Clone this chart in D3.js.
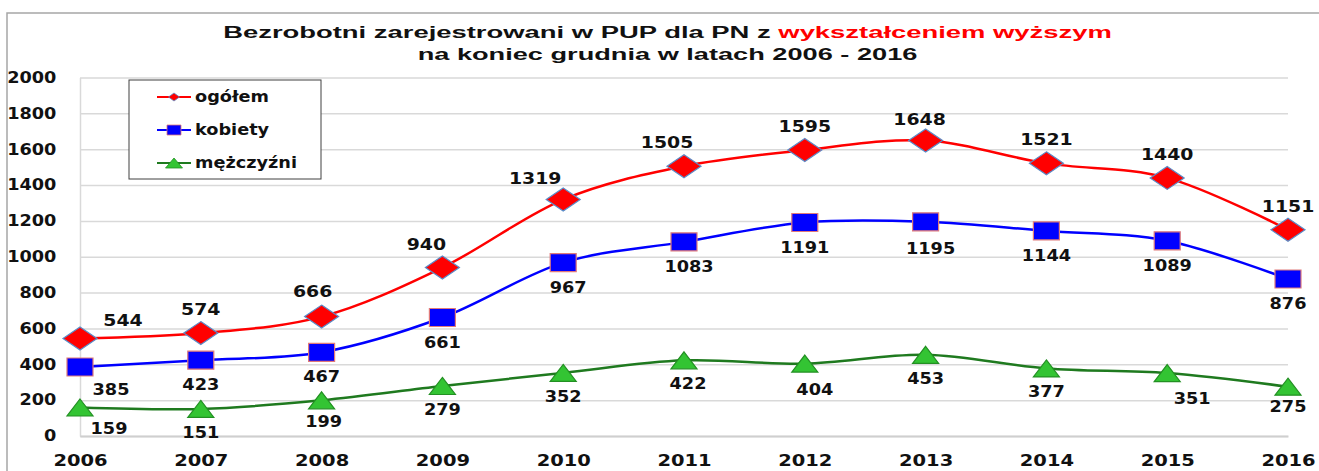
<!DOCTYPE html>
<html lang="pl">
<head>
<meta charset="utf-8">
<title>Bezrobotni z wykształceniem wyższym 2006-2016</title>
<script src="https://cdn.jsdelivr.net/npm/d3@7"></script>
<style>
  body { margin: 0; background: #fff; }
  svg text { font-family: "DejaVu Sans", Verdana, sans-serif; font-weight: bold; fill: #111; }
  .title text { font-family: "Liberation Sans", Arial, sans-serif; }
  .grid line, .grid path { stroke: #d9d9d9; stroke-width: 1.5; }
</style>
</head>
<body>
<div id="chart"></div>
<script>
// dane
var years = [2006, 2007, 2008, 2009, 2010, 2011, 2012, 2013, 2014, 2015, 2016];
var ogolem = [544, 574, 666, 940, 1319, 1505, 1595, 1648, 1521, 1440, 1151];
var kobiety = [385, 423, 467, 661, 967, 1083, 1191, 1195, 1144, 1089, 876];
var mezczyzni = [159, 151, 199, 279, 352, 422, 404, 453, 377, 351, 275];
var yTicks = [0, 200, 400, 600, 800, 1000, 1200, 1400, 1600, 1800, 2000];

var w = 1319, h = 471;
var stretch = 1.18;   // obraz oryginału jest rozciągnięty w poziomie

// wygląd serii
var series = [
  {name: "ogółem", values: ogolem, line: "#ff0000", fill: "#ff0000", edge: "#5b8cc8",
   shape: "diamond", mw: 34, mh: 23, lw: 11, lh: 8, labelDy: -18, labelSize: 16},
  {name: "kobiety", values: kobiety, line: "#0000ff", fill: "#0000ff", edge: "#e07a7a",
   shape: "square", mw: 26, mh: 18, lw: 14, lh: 10, labelDy: 30, labelSize: 15},
  {name: "mężczyźni", values: mezczyzni, line: "#1f7a1f", fill: "#33c433", edge: "#239023",
   shape: "triangle", mw: 26, mh: 17, lw: 17, lh: 10, labelDy: 29, labelSize: 15}
];
// ręczne przesunięcia etykiet [dx, dy] jak w oryginale
var labelShift = {
  "ogółem": {2006: [43, 6], 2008: [-9, -2], 2009: [-16, 0], 2010: [-28, 2], 2011: [-17, 0], 2013: [-6, 2]},
  "kobiety": {2006: [31, -2], 2010: [5, 0], 2011: [5, 0], 2013: [5, 2]},
  "mężczyźni": {2006: [29, -2], 2008: [2, -2], 2011: [4, 0], 2012: [10, 2], 2015: [25, 2], 2016: [0, -4]}
};

var svg = d3.select("#chart").append("svg")
            .attr("width", w)
            .attr("height", h);

// ramka wykresu
svg.append("rect")
   .attr("x", 7).attr("y", 13)
   .attr("width", w + 20).attr("height", h + 20)
   .attr("fill", "#fff")
   .attr("stroke", "#a6a6a6")
   .attr("stroke-width", 1.5);

var x = d3.scalePoint().domain(years).range([80, 1288]);
var y = d3.scaleLinear().domain([0, 2000]).range([436, 77.5]);

// siatka + oś Y
var yAxis = d3.axisLeft(y)
              .tickValues(yTicks)
              .tickFormat(d3.format("d"))
              .tickSize(-(x.range()[1] - x.range()[0]))
              .tickSizeOuter(0)
              .tickPadding(20);
var gy = svg.append("g")
            .attr("class", "grid")
            .attr("transform", "translate(" + x.range()[0] + ",0)")
            .call(yAxis);
gy.selectAll("text")
  .attr("font-size", 15)
  .attr("transform", "scale(" + stretch + ",1)");

// oś X
var xAxis = d3.axisBottom(x).tickSize(0).tickSizeOuter(0).tickPadding(18);
var gx = svg.append("g")
            .attr("transform", "translate(0," + y(0) + ")")
            .call(xAxis);
gx.select(".domain").attr("stroke", "#cfcfcf").attr("stroke-width", 2);
gx.selectAll("text")
  .attr("font-size", 16.5)
  .attr("transform", "scale(" + stretch + ",1)");

function markerPath(shape, mw, mh) {
  var p = d3.path(), a = mw / 2, b = mh / 2;
  if (shape === "diamond") {
    p.moveTo(0, -b); p.lineTo(a, 0); p.lineTo(0, b); p.lineTo(-a, 0); p.closePath();
  } else if (shape === "square") {
    p.rect(-a, -b, mw, mh);
  } else {
    p.moveTo(0, -b); p.lineTo(a, b); p.lineTo(-a, b); p.closePath();
  }
  return p.toString();
}

var line = d3.line()
             .x(function(d, i) { return x(years[i]); })
             .y(function(d) { return y(d); })
             .curve(d3.curveCardinal.tension(0));

// linie
series.forEach(function(s) {
  svg.append("path")
     .datum(s.values)
     .attr("fill", "none")
     .attr("stroke", s.line)
     .attr("stroke-width", 2.5)
     .attr("d", line);
});

// znaczniki i etykiety
series.forEach(function(s) {
  var g = svg.append("g");
  g.selectAll("path")
   .data(s.values)
   .enter()
   .append("path")
   .attr("transform", function(d, i) { return "translate(" + x(years[i]) + "," + y(d) + ")"; })
   .attr("d", markerPath(s.shape, s.mw, s.mh))
   .attr("fill", s.fill)
   .attr("stroke", s.edge)
   .attr("stroke-width", 1.2);

  g.selectAll("text")
   .data(s.values)
   .enter()
   .append("text")
   .attr("transform", function(d, i) {
      var sh = labelShift[s.name][years[i]] || [0, 0];
      return "translate(" + (x(years[i]) + sh[0]) + "," + (y(d) + s.labelDy + sh[1]) + ") scale(" + stretch + ",1)";
   })
   .attr("text-anchor", "middle")
   .attr("font-size", s.labelSize)
   .text(function(d) { return d; });
});

// legenda
var legend = svg.append("g").attr("transform", "translate(129,80)");
legend.append("rect")
      .attr("width", 192).attr("height", 99)
      .attr("fill", "#fff")
      .attr("stroke", "#404040")
      .attr("stroke-width", 1);
var item = legend.selectAll("g.item")
                 .data(series)
                 .enter()
                 .append("g")
                 .attr("class", "item")
                 .attr("transform", function(d, i) { return "translate(0," + (17 + i * 33) + ")"; });
item.append("line")
    .attr("x1", 28).attr("x2", 62)
    .attr("stroke", function(d) { return d.line; })
    .attr("stroke-width", 2);
item.append("path")
    .attr("transform", "translate(45,0)")
    .attr("d", function(d) { return markerPath(d.shape, d.lw, d.lh); })
    .attr("fill", function(d) { return d.fill; })
    .attr("stroke", function(d) { return d.edge; })
    .attr("stroke-width", 0.8);
item.append("text")
    .attr("transform", "translate(66,5) scale(" + stretch + ",1)")
    .attr("font-size", 15)
    .text(function(d) { return d.name; });

// tytuł
var title = svg.append("g").attr("class", "title");
var t1 = title.append("text").attr("font-size", 17).attr("text-anchor", "middle");
t1.append("tspan").text("Bezrobotni zarejestrowani w PUP dla PN z ");
t1.append("tspan").attr("fill", "#ff0000").style("fill", "#ff0000").text("wykształceniem wyższym");
var t2 = title.append("text").attr("font-size", 17).attr("text-anchor", "middle")
              .text("na koniec grudnia w latach 2006 - 2016");
// dopasowanie szerokości linii tytułu do oryginału
[[t1, 889, 37.5], [t2, 500, 60]].forEach(function(t) {
  var len = t[0].node().getComputedTextLength();
  t[0].attr("transform", "translate(667.5," + t[2] + ") scale(" + (t[1] / len) + ",1)");
});
</script>
</body>
</html>
